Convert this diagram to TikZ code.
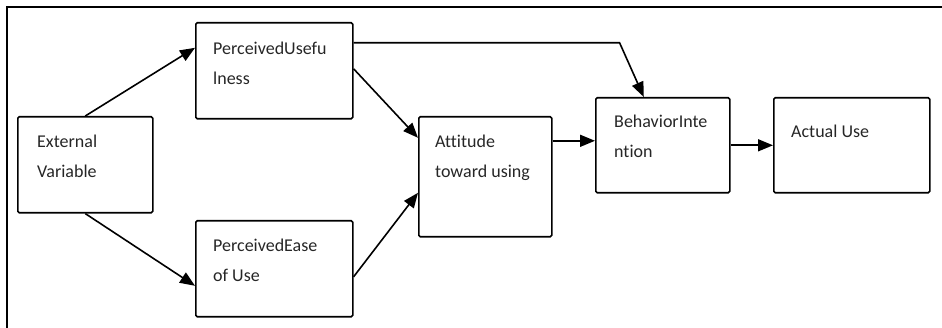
\documentclass[tikz,border=0pt]{standalone}
\usepackage{fontspec}
\setmainfont[Ligatures=NoCommon]{Carlito}
\usetikzlibrary{arrows.meta}

\begin{document}
\begin{tikzpicture}[x=1pt,y=-1pt,
    tambox/.style={draw,line width=1.6pt,rounded corners=1.5pt,anchor=north west,inner sep=0pt},
    tamtext/.style={anchor=north west,inner sep=0pt,align=left,text=black!85,
      font=\fontsize{18}{30}\selectfont},
    tamarrow/.style={line width=1.6pt,-{Triangle[length=15pt,width=12pt]}}]
      \useasboundingbox (0,0) rectangle (942,328);

      % frame
      \draw[line width=1.6pt] (7,328) -- (7,7) -- (942,7);

      % boxes
      \node[tambox,minimum width=135pt,minimum height=96pt] (ext) at (17,116) {};
      \node[tambox,minimum width=157pt,minimum height=96pt] (pu) at (195,22) {};
      \node[tambox,minimum width=157pt,minimum height=96pt] (peu) at (195,220) {};
      \node[tambox,minimum width=133pt,minimum height=120pt] (att) at (418,116) {};
      \node[tambox,minimum width=134pt,minimum height=95pt] (bi) at (595,97) {};
      \node[tambox,minimum width=156pt,minimum height=95pt] (au) at (773,97) {};

      % texts
      \node[tamtext] (extt) at ([xshift=20pt,yshift=-19pt]ext.north west) {External\\Variable};
      \node[tamtext] (put) at ([xshift=18pt,yshift=-20pt]pu.north west) {PerceivedUsefu\\lness};
      \node[tamtext] (peut) at ([xshift=18pt,yshift=-19pt]peu.north west) {PerceivedEase\\of Use};
      \node[tamtext] (attt) at ([xshift=17pt,yshift=-19pt]att.north west) {Attitude\\toward using};
      \node[tamtext] (bit) at ([xshift=19pt,yshift=-18pt]bi.north west) {BehaviorInte\\ntion};
      \node[tamtext] (aut) at ([xshift=18pt,yshift=-28pt]au.north west) {Actual Use};

      % arrows
      \draw[tamarrow] (ext.north) -- ([yshift=23pt]pu.west);
      \draw[tamarrow] (ext.south) -- ([yshift=-17pt]peu.west);
      \draw[tamarrow] ([yshift=2pt]pu.east) -- ([yshift=39pt]att.west);
      \draw[tamarrow] ([yshift=-8pt]peu.east) -- ([yshift=-16pt]att.west);
      \draw[tamarrow] ([yshift=28pt]pu.east) -- ++(266,0) -- ([xshift=-19pt]bi.north);
      \draw[tamarrow] ([yshift=36pt]att.east) -- ([yshift=36pt]att.east -| bi.west);
      \draw[tamarrow] (bi.east) -- (au.west);
\end{tikzpicture}
\end{document}
